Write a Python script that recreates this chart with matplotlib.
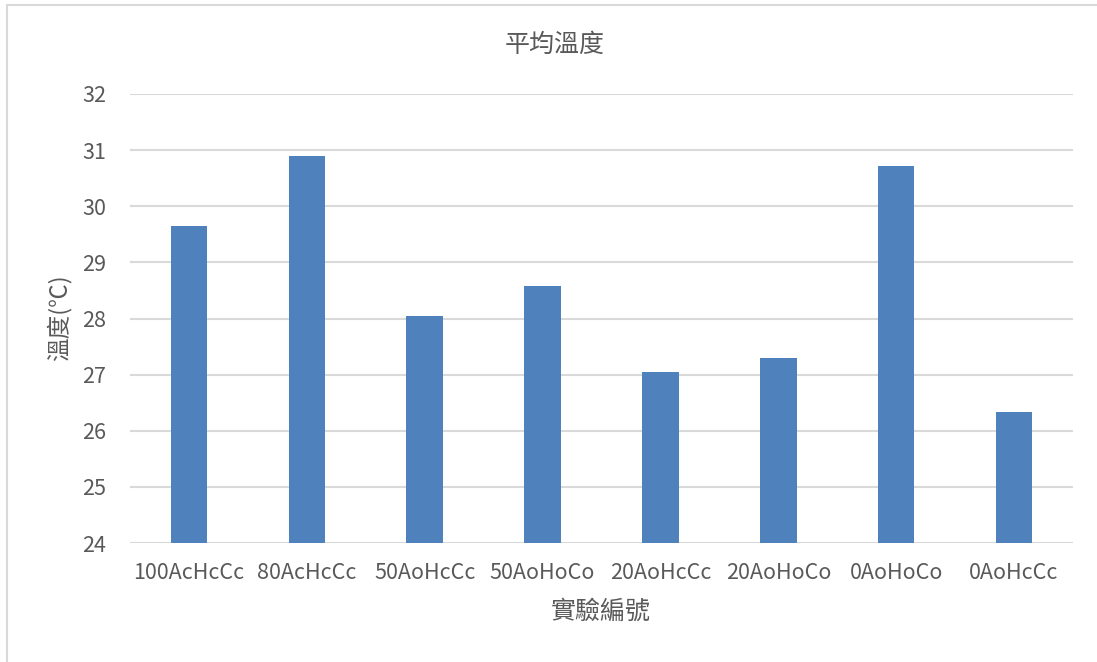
import matplotlib.pyplot as plt
import numpy as np
from matplotlib.lines import Line2D

plt.rcParams['font.family'] = ['Noto Sans CJK TC', 'DejaVu Sans']

# data
labels = ['100AcHcCc', '80AcHcCc', '50AoHcCc', '50AoHoCo',
          '20AoHcCc', '20AoHoCo', '0AoHoCo', '0AoHcCc']
avg_temp = [29.65, 30.89, 28.04, 28.58, 27.05, 27.29, 30.71, 26.33]
y_ticks = [24, 25, 26, 27, 28, 29, 30, 31, 32]

text_color = '#595959'
grid_color = '#d9d9d9'
bar_color = '#4f81bd'

W, H = 1097, 662
fig = plt.figure(figsize=(W / 100, H / 100), dpi=100)
# chart frame: only top and left edges show in the reference
fig.lines.append(Line2D([7 / W, 1], [1 - 5 / H, 1 - 5 / H], transform=fig.transFigure,
                        color=grid_color, linewidth=1.5))
fig.lines.append(Line2D([7 / W, 7 / W], [0, 1 - 5 / H], transform=fig.transFigure,
                        color=grid_color, linewidth=1.5))

ax = fig.add_axes([130 / W, 119 / H, 943 / W, 449 / H])
x = np.arange(len(labels))
ax.bar(x, np.array(avg_temp) - 24, bottom=24, width=0.31, color=bar_color, zorder=3)

ax.set_xlim(-0.5, len(labels) - 0.5)
ax.set_ylim(24, 32)
ax.set_yticks(y_ticks)
ax.set_xticks(x)
ax.set_xticklabels(labels)
ax.yaxis.grid(True, color=grid_color, linewidth=1.5, zorder=0)
for s in ax.spines.values():
    s.set_visible(False)
ax.tick_params(axis='both', length=0, labelsize=15.5, colors=text_color)
ax.tick_params(axis='y', pad=17)
ax.tick_params(axis='x', pad=14)

fig.text(555 / W, 1 - 45 / H, '平均溫度', fontsize=18, color=text_color,
         ha='center', va='center')
fig.text(601 / W, 1 - 612 / H, '實驗編號', fontsize=18, color=text_color,
         ha='center', va='center')
fig.text(59 / W, 1 - 318 / H, '溫度(℃)', fontsize=17, color=text_color,
         ha='center', va='center', rotation=90)

fig.savefig('out.png', dpi=100)
